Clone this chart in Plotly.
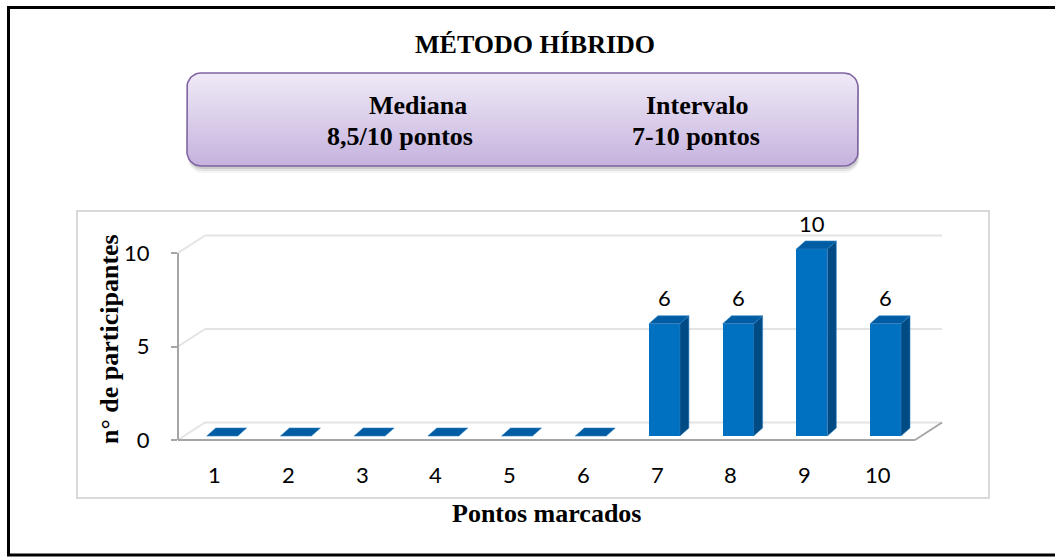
import numpy as np
import plotly.graph_objects as go

# ---------------- data ----------------
categories = [1, 2, 3, 4, 5, 6, 7, 8, 9, 10]
counts = [0, 0, 0, 0, 0, 0, 6, 6, 10, 6]
ytick_vals = [0, 5, 10]
ytick_text = ["0", "5", "10"]
title_text = "MÉTODO HÍBRIDO"
stat_left = ["Mediana", "8,5/10 pontos"]
stat_right = ["Intervalo", "7-10 pontos"]
y_title = "n° de participantes"
x_title = "Pontos marcados"

# ---------------- geometry (pixels) ----------------
W, H = 1055, 557
PX_X0 = 178.0      # pixel of x = 0.5
PX_PER_X = 73.7
PX_Y0 = 440.0      # pixel of y = 0
PX_PER_Y = 18.7
X_RANGE = [0.5, 10.9]
Y_RANGE = [-1.0, 12.3]


def xpix(v):
    return PX_X0 + (v - X_RANGE[0]) * PX_PER_X


def ypix(v):
    return PX_Y0 - v * PX_PER_Y


def pp(px, py):
    return px / W, (H - py) / H


dom_x = [xpix(X_RANGE[0]) / W, xpix(X_RANGE[1]) / W]
dom_y = [(H - ypix(Y_RANGE[0])) / H, (H - ypix(Y_RANGE[1])) / H]

# 3D offsets
DXW = 27 / PX_PER_X   # wall depth
DYW = 17.5 / PX_PER_Y
BASE = 4 / PX_PER_Y   # bar baseline
DXB = 9 / PX_PER_X    # bar depth
DYB = 8 / PX_PER_Y
X_OFF = -0.11
BAR_W = 0.42
X_END = categories[-1] + 0.5

BLUE = "#0070C0"
BLUE_TOP = "#005DA3"
BLUE_SIDE = "#004B84"
GRID = "#E4E4E4"
AXIS = "#A6A6A6"

NUM_FONT = dict(family="Lato, Carlito, 'Noto Sans', sans-serif", size=22, color="#000000")
SERIF = dict(family="'Liberation Serif', 'Times New Roman', serif", size=26, color="#000000", weight="bold")

fig = go.Figure()

shapes = []
# ---- back wall gridlines and left-wall diagonals (below the bars) ----
for v in ytick_vals:
    shapes.append(dict(type="line", xref="x", yref="y", layer="below",
                       x0=X_RANGE[0] + DXW, x1=X_END + DXW, y0=v + DYW, y1=v + DYW,
                       line=dict(color=GRID, width=2)))
    shapes.append(dict(type="line", xref="x", yref="y", layer="below",
                       x0=X_RANGE[0], x1=X_RANGE[0] + DXW, y0=v, y1=v + DYW,
                       line=dict(color=GRID, width=2)))
# ---- floor edges ----
shapes.append(dict(type="line", xref="x", yref="y", layer="below",
                   x0=X_RANGE[0], x1=X_END, y0=0, y1=0, line=dict(color=AXIS, width=2)))
shapes.append(dict(type="line", xref="x", yref="y", layer="below",
                   x0=X_END, x1=X_END + DXW, y0=0, y1=DYW, line=dict(color=AXIS, width=2)))

# ---- bars: front faces ----
fig.add_trace(go.Bar(x=categories, y=counts, base=BASE, offset=X_OFF, width=BAR_W,
                     marker=dict(color=BLUE, line=dict(width=0)),
                     hoverinfo="skip", showlegend=False))

# ---- bars: top & side faces ----
tx, ty, sx, sy = [], [], [], []
for c, v in zip(categories, counts):
    x0 = c + X_OFF
    x1 = x0 + BAR_W
    t = BASE + v
    tx += [x0, x1, x1 + DXB, x0 + DXB, x0, None]
    ty += [t, t, t + DYB, t + DYB, t, None]
    if v > 0:
        sx += [x1, x1 + DXB, x1 + DXB, x1, x1, None]
        sy += [BASE, BASE + DYB, t + DYB, t, BASE, None]
fig.add_trace(go.Scatter(x=sx, y=sy, mode="lines", fill="toself", fillcolor=BLUE_SIDE,
                         line=dict(width=0.6, color="#2F7FC1"), hoverinfo="skip", showlegend=False))
fig.add_trace(go.Scatter(x=tx, y=ty, mode="lines", fill="toself", fillcolor=BLUE_TOP,
                         line=dict(width=0.6, color="#2F7FC1"), hoverinfo="skip", showlegend=False))


# ---- purple box (full-page overlay axes in pixels) ----
def rounded_rect(x0, y0, x1, y1, r, n=10):
    pts = []
    corners = [(x1 - r, y0 + r, -90, 0), (x1 - r, y1 - r, 0, 90),
               (x0 + r, y1 - r, 90, 180), (x0 + r, y0 + r, 180, 270)]
    for cx, cy, a0, a1 in corners:
        for a in np.linspace(np.radians(a0), np.radians(a1), n):
            pts.append((cx + r * np.cos(a), cy + r * np.sin(a)))
    pts.append(pts[0])
    xs = [p[0] for p in pts]
    ys = [H - p[1] for p in pts]
    return xs, ys


BOX = (187, 73, 858, 166)
for off, alpha in [(7, 0.04), (5, 0.07), (3, 0.10)]:
    xs, ys = rounded_rect(BOX[0] + 1, BOX[1] + off, BOX[2] + 1, BOX[3] + off, 14)
    fig.add_trace(go.Scatter(x=xs, y=ys, xaxis="x2", yaxis="y2", mode="lines", fill="toself",
                             fillcolor=f"rgba(0,0,0,{alpha})", line=dict(width=0),
                             hoverinfo="skip", showlegend=False))
xs, ys = rounded_rect(*BOX, 14)
fig.add_trace(go.Scatter(x=xs, y=ys, xaxis="x2", yaxis="y2", mode="lines", fill="toself",
                         fillgradient=dict(type="vertical",
                                           colorscale=[[0, "#C6B2DE"], [1, "#EFEAF7"]]),
                         line=dict(width=1.6, color="#8064A2"),
                         hoverinfo="skip", showlegend=False))

annotations = []
# data labels
for c, v in zip(categories, counts):
    if v > 0:
        annotations.append(dict(x=c + X_OFF + BAR_W / 2, y=BASE + v + DYB + 0.96, xref="x", yref="y",
                                text=str(v), showarrow=False, font=NUM_FONT,
                                xanchor="center", yanchor="middle"))
# x tick labels
for c in categories:
    annotations.append(dict(x=c, y=pp(0, 475)[1], xref="x", yref="paper", text=str(c),
                            showarrow=False, font=NUM_FONT, xanchor="center", yanchor="middle"))


def txt(px, py, s, font, angle=0):
    x, y = pp(px, py)
    return dict(x=x, y=y, xref="paper", yref="paper", text=s, showarrow=False, font=font,
                xanchor="center", yanchor="middle", textangle=angle)


annotations += [
    txt(535, 45, title_text, SERIF),
    txt(418, 105, stat_left[0], SERIF),
    txt(400, 136, stat_left[1], SERIF),
    txt(697, 105, stat_right[0], SERIF),
    txt(696, 136, stat_right[1], SERIF),
    txt(546, 513, x_title, SERIF),
    txt(109, 339, y_title, SERIF, -90),
]

shapes += [
    # y axis line
    dict(type="line", xref="paper", yref="y", x0=dom_x[0], x1=dom_x[0], y0=0, y1=10,
         line=dict(color=AXIS, width=2)),
    # chart area border
    dict(type="rect", xref="paper", yref="paper",
         x0=pp(77, 0)[0], x1=pp(989, 0)[0], y0=pp(0, 498)[1], y1=pp(0, 211)[1],
         line=dict(color="#D9D9D9", width=2)),
    # outer black border
    dict(type="rect", xref="paper", yref="paper",
         x0=pp(8.5, 0)[0], x1=pp(1070, 0)[0], y0=pp(0, 555)[1], y1=pp(0, 7.5)[1],
         line=dict(color="#000000", width=3)),
]

fig.update_layout(
    width=W, height=H,
    margin=dict(l=0, r=0, t=0, b=0),
    paper_bgcolor="white", plot_bgcolor="rgba(0,0,0,0)",
    showlegend=False,
    xaxis=dict(domain=dom_x, range=X_RANGE, visible=False, showgrid=False, zeroline=False),
    yaxis=dict(domain=dom_y, range=Y_RANGE, tickvals=ytick_vals, ticktext=ytick_text,
               ticks="outside", ticklen=6, tickwidth=1.5, tickcolor=AXIS,
               ticklabelstandoff=17, tickfont=NUM_FONT,
               showgrid=False, zeroline=False, showline=False, automargin=False),
    xaxis2=dict(domain=[0, 1], range=[0, W], anchor="y2", visible=False, fixedrange=True),
    yaxis2=dict(domain=[0, 1], range=[0, H], anchor="x2", visible=False, fixedrange=True),
    annotations=annotations,
    shapes=shapes,
    bargap=0,
)

fig.write_html("out.html", config={"displayModeBar": False},
               post_script="document.body.style.margin='0';document.body.style.overflow='hidden';")
